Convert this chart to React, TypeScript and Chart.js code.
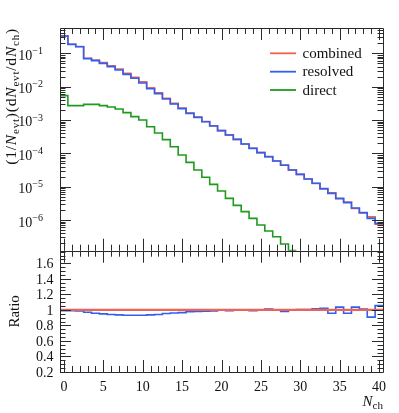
import React, { useEffect, useRef } from 'react';
import { Chart, registerables } from 'chart.js';

Chart.register(...registerables);

// ---------- data ----------
const nch = [0, 1, 2, 3, 4, 5, 6, 7, 8, 9, 10, 11, 12, 13, 14, 15, 16, 17, 18, 19, 20,
  21, 22, 23, 24, 25, 26, 27, 28, 29, 30, 31, 32, 33, 34, 35, 36, 37, 38, 39, 40];

const combined = [0.334, 0.188, 0.160, 0.0713, 0.0630, 0.0528, 0.0423, 0.0338, 0.0252, 0.0191,
  0.0139, 0.0093, 0.00656, 0.00448, 0.00315, 0.00227, 0.00162, 0.00122, 9.05e-4, 6.71e-4,
  4.79e-4, 3.59e-4, 2.63e-4, 1.91e-4, 1.42e-4, 1.05e-4, 7.86e-5, 5.89e-5, 4.46e-5, 3.18e-5,
  2.33e-5, 1.69e-5, 1.24e-5, 8.54e-6, 6.59e-6, 4.32e-6, 3.46e-6, 2.21e-6, 1.64e-6, 1.24e-6, 7.53e-7];

const resolved = [0.331, 0.186, 0.158, 0.0692, 0.0603, 0.0501, 0.0398, 0.0316, 0.0234, 0.0178,
  0.0129, 0.0087, 0.00617, 0.00427, 0.00302, 0.00219, 0.00158, 0.00120, 8.9e-4, 6.6e-4,
  4.79e-4, 3.55e-4, 2.63e-4, 1.91e-4, 1.41e-4, 1.05e-4, 7.94e-5, 5.89e-5, 4.37e-5, 3.16e-5,
  2.34e-5, 1.70e-5, 1.26e-5, 8.71e-6, 6.31e-6, 4.47e-6, 3.31e-6, 2.29e-6, 1.66e-6, 1.12e-6, 7.94e-7];

const direct: (number | null)[] = [5.37e-3, 2.69e-3, 2.69e-3, 2.95e-3, 2.95e-3, 2.69e-3, 2.45e-3, 2.14e-3, 1.66e-3, 1.26e-3,
  1.0e-3, 6.3e-4, 4.07e-4, 2.57e-4, 1.58e-4, 8.9e-5, 5.37e-5, 3.16e-5, 1.91e-5, 1.17e-5,
  7.4e-6, 4.47e-6, 2.75e-6, 1.78e-6, 1.12e-6, 7.1e-7, 4.68e-7, 3.16e-7, 1.9e-7, 1.21e-7,
  null, null, null, null, null, null, null, null, null, null, null];

const ratioCombined = [1, 1, 1, 1, 1, 1, 1, 1, 1, 1, 1, 1, 1, 1, 1, 1, 1, 1, 1, 1, 1,
  1, 1, 1, 1, 1, 1, 1, 1, 1, 1, 1, 1, 1, 1, 1, 1, 1, 1, 1, 1];

const ratioResolved = [0.99, 0.99, 0.985, 0.97, 0.957, 0.948, 0.94, 0.935, 0.93, 0.93,
  0.93, 0.935, 0.94, 0.953, 0.96, 0.965, 0.975, 0.98, 0.983, 0.985,
  1.0, 0.99, 1.0, 1.0, 0.99, 1.0, 1.01, 1.0, 0.98, 0.995,
  1.005, 1.005, 1.013, 1.02, 0.957, 1.035, 0.957, 1.035, 1.01, 0.906, 1.055];

const seriesNames = ['combined', 'resolved', 'direct'];
const seriesColors = ['#ee6352', '#3060f0', '#1f9a1f'];

const xTickLabels = ['0', '5', '10', '15', '20', '25', '30', '35', '40'];
const logTickExps = [-1, -2, -3, -4, -5, -6];
const ratioTickLabels = ['0.2', '0.4', '0.6', '0.8', '1', '1.2', '1.4', '1.6'];

// ---------- helpers ----------
const FONT = '"Liberation Serif", "DejaVu Serif", serif';
type Part = { t: string; k?: 'i' | 'sub' | 'sup' };

function partFont(p: Part, size: number) {
  const s = p.k === 'sub' || p.k === 'sup' ? Math.round(size * 0.72) : size;
  const it = p.k === 'i' ? 'italic ' : '';
  return `${it}${s}px ${FONT}`;
}
function partDy(p: Part, size: number) {
  return p.k === 'sub' ? size * 0.25 : p.k === 'sup' ? -size * 0.42 : 0;
}
function richWidth(ctx: CanvasRenderingContext2D, parts: Part[], size: number) {
  let w = 0;
  for (const p of parts) {
    ctx.font = partFont(p, size);
    w += ctx.measureText(p.t).width;
  }
  return w;
}
function drawRich(ctx: CanvasRenderingContext2D, parts: Part[], x: number, y: number, size: number, align: 'left' | 'right' | 'center') {
  const w = richWidth(ctx, parts, size);
  let cx = align === 'left' ? x : align === 'right' ? x - w : x - w / 2;
  ctx.textAlign = 'left';
  ctx.textBaseline = 'alphabetic';
  for (const p of parts) {
    ctx.font = partFont(p, size);
    ctx.fillText(p.t, cx, y + partDy(p, size));
    cx += ctx.measureText(p.t).width;
  }
}

function histPoints(vals: (number | null)[]) {
  const pts: { x: number; y: number }[] = [];
  let last = -1;
  vals.forEach((v, i) => {
    if (v != null) {
      pts.push({ x: nch[i] - 0.5, y: v });
      last = i;
    }
  });
  if (last >= 0) pts.push({ x: nch[last] + 0.5, y: vals[last] as number });
  return pts;
}

const decoPlugin = {
  id: 'deco',
  afterDraw(chart: any) {
    const ctx: CanvasRenderingContext2D = chart.ctx;
    const xs = chart.scales.x;
    const ys = chart.scales.y;
    const rs = chart.scales.y2;
    const L = xs.left, R = xs.right;
    const T1 = ys.top, B1 = ys.bottom, T2 = rs.top, B2 = rs.bottom;
    const px = (v: number) => Math.round(v) + 0.5;

    ctx.save();
    ctx.strokeStyle = '#2a2a2a';
    ctx.lineWidth = 1;
    ctx.beginPath();
    // frames
    ctx.rect(px(L), px(T1), Math.round(R) - Math.round(L), Math.round(B1) - Math.round(T1));
    ctx.rect(px(L), px(T2), Math.round(R) - Math.round(L), Math.round(B2) - Math.round(T2));

    const hTick = (y: number, len: number) => {
      const yy = px(y);
      ctx.moveTo(L, yy); ctx.lineTo(L + len, yy);
      ctx.moveTo(R, yy); ctx.lineTo(R - len, yy);
    };
    // x ticks
    for (let v = 0; v <= 40; v++) {
      const major = v % 5 === 0;
      const len = major ? 12 : 6;
      const xx = px(xs.getPixelForValue(v));
      ctx.moveTo(xx, T1); ctx.lineTo(xx, T1 + len);
      ctx.moveTo(xx, B1); ctx.lineTo(xx, B1 - len);
      ctx.moveTo(xx, T2); ctx.lineTo(xx, T2 + len);
      ctx.moveTo(xx, B2); ctx.lineTo(xx, B2 - len);
    }
    // log y ticks
    for (let k = -8; k <= 0; k++) {
      for (let m = 1; m <= 9; m++) {
        const v = m * Math.pow(10, k);
        if (v < ys.min || v > ys.max) continue;
        hTick(ys.getPixelForValue(v), m === 1 ? 11 : 5.5);
      }
    }
    // ratio y ticks
    for (let i = 4; i <= 40; i++) {
      const v = i * 0.05;
      if (v < rs.min - 1e-9 || v > rs.max) continue;
      hTick(rs.getPixelForValue(v), i % 4 === 0 ? 11 : 5.5);
    }
    ctx.stroke();

    ctx.fillStyle = '#111';
    // x tick labels
    ctx.font = `14px ${FONT}`;
    ctx.textAlign = 'center';
    ctx.textBaseline = 'alphabetic';
    xTickLabels.forEach((s) => {
      ctx.fillText(s, xs.getPixelForValue(parseFloat(s)), B2 + 18.5);
    });
    // ratio labels
    ctx.textAlign = 'right';
    ratioTickLabels.forEach((s) => {
      ctx.fillText(s, L - 6.5, rs.getPixelForValue(parseFloat(s)) + 4.7);
    });
    // log labels
    logTickExps.forEach((e) => {
      const y = ys.getPixelForValue(Math.pow(10, e));
      drawRich(ctx, [{ t: '10' }, { t: '\u2212' + String(-e), k: 'sup' }], L - 17, y + 6.5, 14, 'right');
    });
    // axis titles
    ctx.save();
    ctx.translate(15.5, T1);
    ctx.rotate(-Math.PI / 2);
    (ctx as any).letterSpacing = '0.8px';
    drawRich(ctx, [
      { t: '(1/' }, { t: 'N', k: 'i' }, { t: 'evt', k: 'sub' }, { t: ')(d' }, { t: 'N', k: 'i' },
      { t: 'evt', k: 'sub' }, { t: '/d' }, { t: 'N', k: 'i' }, { t: 'ch', k: 'sub' }, { t: ')' },
    ], 0, 0, 15.5, 'right');
    (ctx as any).letterSpacing = '0px';
    ctx.restore();

    ctx.save();
    ctx.translate(19, rs.getPixelForValue(1) + 1.5);
    ctx.rotate(-Math.PI / 2);
    drawRich(ctx, [{ t: 'Ratio' }], 0, 0, 15, 'center');
    ctx.restore();

    drawRich(ctx, [{ t: 'N', k: 'i' }, { t: 'ch', k: 'sub' }], R, 405.5, 15, 'right');

    // legend
    const legY = [53.3, 71.7, 90];
    seriesNames.forEach((name, i) => {
      ctx.strokeStyle = seriesColors[i];
      ctx.lineWidth = 1.8;
      ctx.beginPath();
      ctx.moveTo(270, legY[i]);
      ctx.lineTo(296, legY[i]);
      ctx.stroke();
      ctx.fillStyle = '#111';
      drawRich(ctx, [{ t: name }], 302.5, legY[i] + 4.5, 15, 'left');
    });
    ctx.restore();
  },
};

export default function App() {
  const ref = useRef<HTMLCanvasElement>(null);
  useEffect(() => {
    document.body.style.margin = '0';
    const canvas = ref.current;
    if (!canvas) return;
    const ds = (label: string, vals: (number | null)[], color: string, axis: string, order: number, width = 1.6) => ({
      label,
      data: histPoints(vals),
      borderColor: color,
      backgroundColor: color,
      borderWidth: width,
      pointRadius: 0,
      stepped: true,
      fill: false,
      yAxisID: axis,
      order,
    });
    const chart = new Chart(canvas, {
      type: 'line',
      data: {
        datasets: [
          ds(seriesNames[2], direct, seriesColors[2], 'y', 1),
          ds(seriesNames[1], resolved, seriesColors[1], 'y', 2),
          ds(seriesNames[0], combined, seriesColors[0], 'y', 3),
          ds(seriesNames[0], ratioCombined, seriesColors[0], 'y2', 0, 2.2),
          ds(seriesNames[1], ratioResolved, seriesColors[1], 'y2', 4),
        ],
      },
      options: {
        responsive: false,
        animation: false,
        events: [],
        layout: { padding: { left: 60, right: 16, top: 28, bottom: 41 } },
        plugins: { legend: { display: false }, tooltip: { enabled: false } },
        scales: {
          x: { type: 'linear', min: -0.5, max: 40.5, display: false },
          y2: {
            type: 'linear', min: 0.2, max: 1.762, display: false,
            stack: 'v', stackWeight: 121.3, position: 'left', offset: false,
          },
          y: {
            type: 'logarithmic', min: 1.2e-7, max: 0.575, display: false,
            stack: 'v', stackWeight: 222.7, position: 'left', offset: false,
          },
        },
      } as any,
      plugins: [decoPlugin],
    });
    return () => chart.destroy();
  }, []);
  return (
    <div style={{ width: 399, height: 413, background: '#fff' }}>
      <canvas ref={ref} width={399} height={413} style={{ display: 'block' }} />
    </div>
  );
}
